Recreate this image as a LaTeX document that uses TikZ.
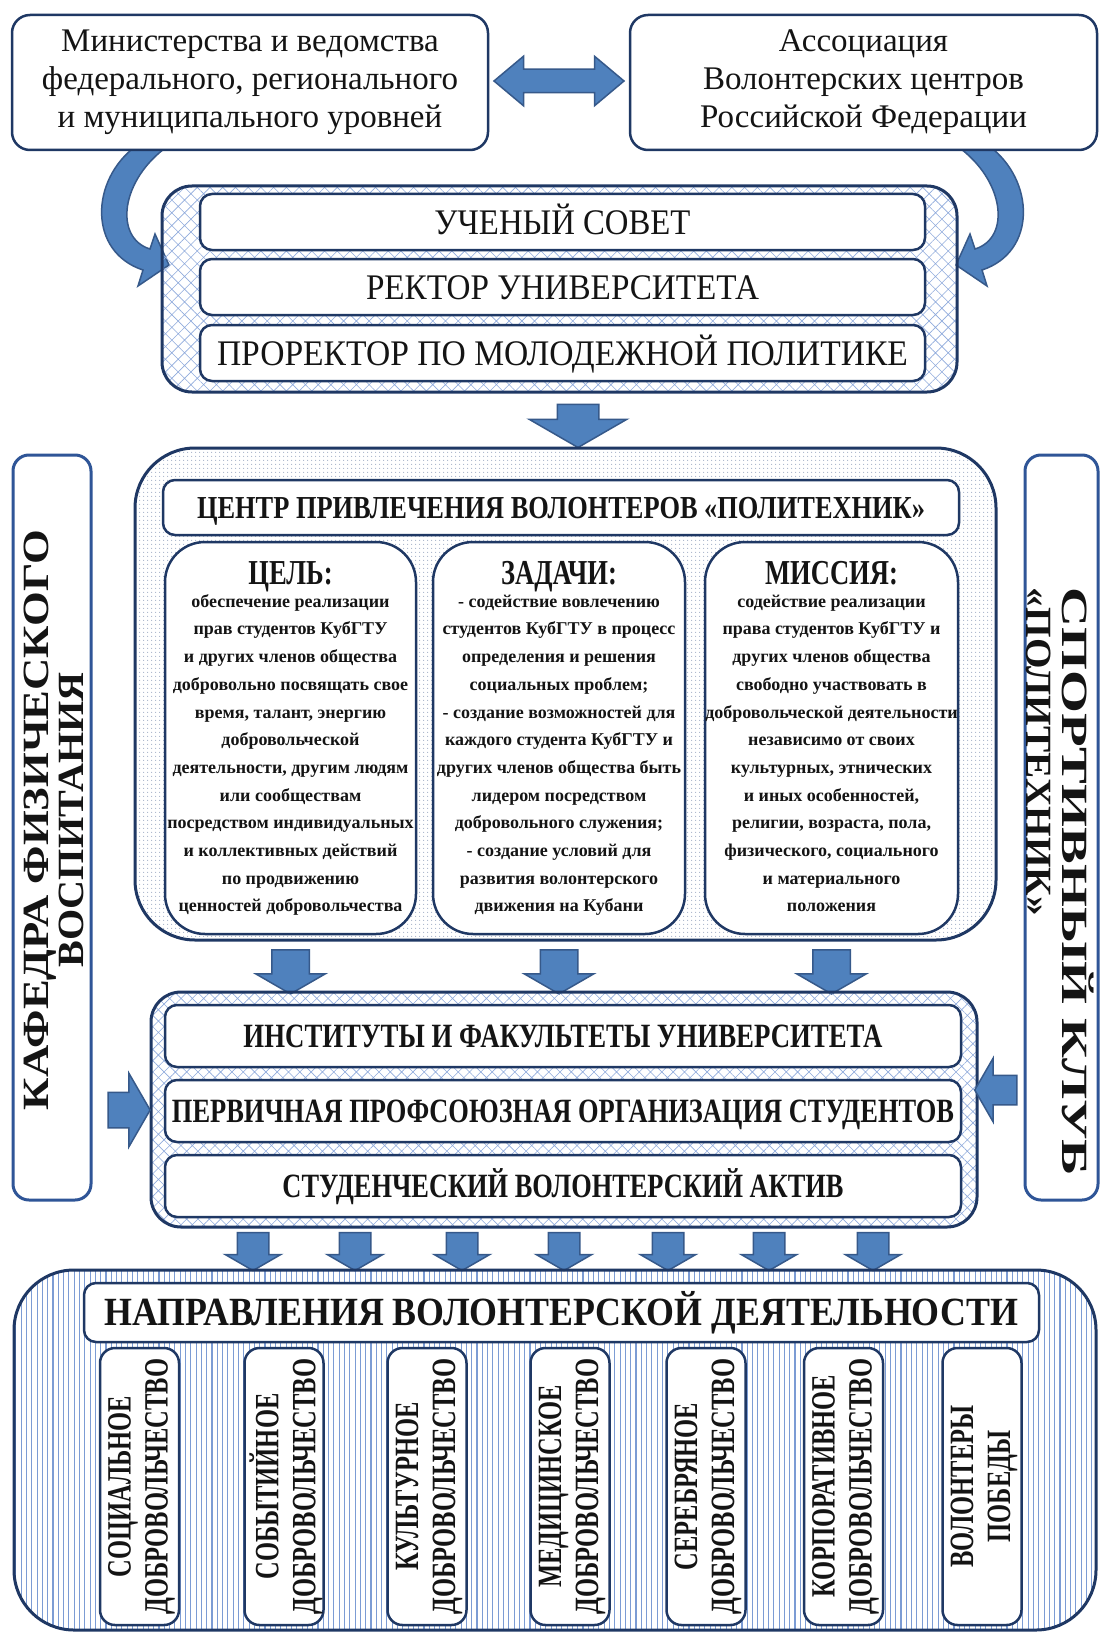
\documentclass[tikz,border=0pt]{standalone}
\usepackage{fontspec}
\setmainfont{Liberation Serif}
\newfontfamily\headserif[FakeStretch=0.76]{Liberation Serif}
\newfontfamily\vserif[FakeStretch=0.72]{Liberation Serif}
\usepackage{graphicx}
\usetikzlibrary{shapes.arrows,patterns.meta}
\definecolor{navy}{HTML}{1F3864}
\definecolor{arrowfill}{HTML}{4F81BD}
\definecolor{arrowline}{HTML}{36598A}
\definecolor{hatchblue}{HTML}{8FAADC}
\definecolor{dotgray}{HTML}{A7B3C9}
\definecolor{linesblue}{HTML}{7C9CD4}
\definecolor{txt}{HTML}{141414}
\definecolor{panelblue}{HTML}{2F5597}
\newcommand{\fitw}[2]{\resizebox{#1}{\height}{#2}}
\begin{document}
\begin{tikzpicture}[x=1pt,y=-1pt,
  every node/.style={text=txt},
  topbox/.style={draw=navy, line width=2.5pt, rounded corners=18pt, fill=white, inner sep=0pt, align=center, font=\fontsize{33}{38}\selectfont},
  hatchframe/.style={draw=navy, line width=3pt, rounded corners=30pt, inner sep=0pt, pattern={Hatch[angle=45,distance=9pt,line width=0.6pt]}, pattern color=hatchblue},
  hatchframeb/.style={draw=navy, line width=3pt, rounded corners=30pt, inner sep=0pt, pattern={Hatch[angle=45,distance=8pt,line width=0.6pt]}, pattern color=hatchblue},
  dotframe/.style={draw=navy, line width=3pt, rounded corners=60pt, inner sep=0pt, pattern={Dots[distance=4pt,radius=0.75pt]}, pattern color=dotgray},
  lineframe/.style={draw=navy, line width=3pt, rounded corners=60pt, inner sep=0pt, pattern={Lines[angle=90,distance=5.3pt,line width=1.1pt]}, pattern color=linesblue},
  innerbox/.style={draw=navy, line width=2.5pt, fill=white, rounded corners=12pt, inner sep=0pt, text depth=0pt},
  colbox/.style={draw=navy, line width=2.5pt, fill=white, rounded corners=40pt, inner sep=0pt, minimum height=392pt},
  colhead/.style={anchor=base, inner sep=0pt, font=\headserif\bfseries\fontsize{35}{38}\selectfont},
  colbody/.style={anchor=north, inner sep=0pt, align=center, font=\bfseries\fontsize{18}{27.7}\selectfont},
  sidepanel/.style={draw=panelblue, line width=3pt, fill=white, rounded corners=16pt, inner sep=0pt, minimum height=745pt},
  vbox/.style={draw=navy, line width=2.5pt, fill=white, rounded corners=15pt, inner sep=0pt, minimum width=79pt, minimum height=277pt},
  vtext/.style={rotate=90, inner sep=0pt, align=center, font=\vserif\bfseries\fontsize{34}{37}\selectfont},
  blockarrow/.style={single arrow, draw=arrowline, line width=1.5pt, fill=arrowfill, inner sep=0pt, single arrow tip angle=120},
  carrow/.style={draw=arrowline, line width=1.5pt, fill=arrowfill}
]
\fill[white] (0,0) rectangle (1100,1632);
\useasboundingbox (0,0) rectangle (1100,1632);

% curved arrows from the top boxes to the council frame
\path[carrow] (136,146) .. controls (90,180) and (88,252) .. (143,270) -- (138,286) -- (169,265) -- (155,234) -- (150,249) .. controls (114,238) and (120,180) .. (168,146) -- cycle;
\begin{scope}[xshift=1125pt,xscale=-1]
\path[carrow] (136,146) .. controls (90,180) and (88,252) .. (143,270) -- (138,286) -- (169,265) -- (155,234) -- (150,249) .. controls (114,238) and (120,180) .. (168,146) -- cycle;
\end{scope}

% top boxes
\node[topbox, minimum width=476pt, minimum height=135pt] (mvd) at (250,82.5) {Министерства и ведомства\\федерального, регионального\\и муниципального уровней};
\node[topbox, minimum width=467pt, minimum height=135pt] (avc) at (863.5,82.5) {Ассоциация\\Волонтерских центров\\Российской Федерации};
\node[double arrow, draw=arrowline, line width=1.5pt, fill=arrowfill, inner sep=0pt, inner ysep=11pt, minimum height=130pt, minimum width=48pt, double arrow head extend=13pt, double arrow tip angle=80] (da) at (559,81) {};

% frame 1
\node[hatchframe, minimum width=795pt, minimum height=206pt] (f1) at (559.5,289) {};
\node[innerbox, minimum width=725pt, minimum height=56pt, text height=24pt, font=\fontsize{36}{40}\selectfont] (us) at (562.5,222) {\fitw{256pt}{УЧЕНЫЙ СОВЕТ}};
\node[innerbox, minimum width=725pt, minimum height=56pt, text height=24pt, font=\fontsize{36}{40}\selectfont] (ru) at (562.5,287) {\fitw{393pt}{РЕКТОР УНИВЕРСИТЕТА}};
\node[innerbox, minimum width=725pt, minimum height=56pt, text height=24pt, font=\fontsize{36}{40}\selectfont] (pm) at (562.5,353) {\fitw{691pt}{ПРОРЕКТОР ПО МОЛОДЕЖНОЙ ПОЛИТИКЕ}};

\node[blockarrow, rotate=-90, inner ysep=20pt, minimum height=43pt, minimum width=96pt, single arrow head extend=28pt] (a1) at (578,420) {};

% side panels
\node[sidepanel, minimum width=78pt] (lp) at (52,827.5) {};
\node[rotate=90, inner sep=0pt, align=center, font=\bfseries\fontsize{37}{35}\selectfont] (lpt) at (53.5,820) {\fitw{580pt}{КАФЕДРА ФИЗИЧЕСКОГО}\\\fitw{295pt}{ВОСПИТАНИЯ}};
\node[sidepanel, minimum width=73pt] (rp) at (1061.5,827.5) {};
\node[rotate=-90, inner sep=0pt, align=left, font=\bfseries\fontsize{37}{36}\selectfont] (rpt) at (1060,882) {\fitw{588pt}{СПОРТИВНЫЙ КЛУБ}\\\fitw{328pt}{«ПОЛИТЕХНИК»}};

% frame 2
\node[dotframe, minimum width=861pt, minimum height=492pt] (f2) at (565.5,694) {};
\node[innerbox, minimum width=796pt, minimum height=55pt, text height=21pt, font=\bfseries\fontsize{32}{36}\selectfont] (cpv) at (561,507.5) {\fitw{728pt}{ЦЕНТР ПРИВЛЕЧЕНИЯ ВОЛОНТЕРОВ «ПОЛИТЕХНИК»}};

\node[colbox, minimum width=251pt] (goal) at (290.5,738) {};
\node[colbox, minimum width=252pt] (tasks) at (559,738) {};
\node[colbox, minimum width=253pt] (mission) at (831.5,738) {};

\node[colhead] (goalh) at (290.5,584) {ЦЕЛЬ:};
\node[colhead] (tasksh) at (559,584) {ЗАДАЧИ:};
\node[colhead] (missionh) at (831.5,584) {МИССИЯ:};

\node[colbody] (goalb) at (290.5,594) {\rule{0pt}{13pt}обеспечение реализации\\прав студентов КубГТУ\\и других членов общества\\добровольно посвящать свое\\время, талант, энергию\\добровольческой\\деятельности, другим людям\\или сообществам\\посредством индивидуальных\\и коллективных действий\\по продвижению\\ценностей добровольчества};
\node[colbody] (tasksb) at (559,594) {\rule{0pt}{13pt}- содействие вовлечению\\студентов КубГТУ в процесс\\определения и решения\\социальных проблем;\\- создание возможностей для\\каждого студента КубГТУ и\\других членов общества быть\\лидером посредством\\добровольного служения;\\- создание условий для\\развития волонтерского\\движения на Кубани};
\node[colbody] (missionb) at (831.5,594) {\rule{0pt}{13pt}содействие реализации\\права студентов КубГТУ и\\других членов общества\\свободно участвовать в\\добровольческой деятельности\\независимо от своих\\культурных, этнических\\и иных особенностей,\\религии, возраста, пола,\\физического, социального\\и материального\\положения};

\node[blockarrow, rotate=-90, inner ysep=18pt, minimum height=44pt, minimum width=68pt, single arrow head extend=16pt] (a2) at (290.5,966.5) {};
\node[blockarrow, rotate=-90, inner ysep=18pt, minimum height=44pt, minimum width=68pt, single arrow head extend=16pt] (a3) at (559,966.5) {};
\node[blockarrow, rotate=-90, inner ysep=18pt, minimum height=44pt, minimum width=68pt, single arrow head extend=16pt] (a4) at (831.5,966.5) {};

% frame 3
\node[hatchframeb, minimum width=826pt, minimum height=235pt] (f3) at (564,1109.5) {};
\node[innerbox, minimum width=796pt, minimum height=62pt, text height=22.5pt, font=\bfseries\fontsize{34}{38}\selectfont] (inst) at (563,1036) {\fitw{639pt}{ИНСТИТУТЫ И ФАКУЛЬТЕТЫ УНИВЕРСИТЕТА}};
\node[innerbox, minimum width=796pt, minimum height=62pt, text height=22.5pt, font=\bfseries\fontsize{34}{38}\selectfont] (ppos) at (563,1111) {\fitw{782pt}{ПЕРВИЧНАЯ ПРОФСОЮЗНАЯ ОРГАНИЗАЦИЯ СТУДЕНТОВ}};
\node[innerbox, minimum width=796pt, minimum height=62pt, text height=22.5pt, font=\bfseries\fontsize{34}{38}\selectfont] (sva) at (563,1186) {\fitw{561pt}{СТУДЕНЧЕСКИЙ ВОЛОНТЕРСКИЙ АКТИВ}};

\node[blockarrow, inner ysep=17pt, minimum height=42pt, minimum width=72pt, single arrow head extend=19pt] (al) at (124,1110) {};
\node[blockarrow, rotate=180, inner ysep=14pt, minimum height=42pt, minimum width=62pt, single arrow head extend=17pt] (ar) at (1000,1090) {};

% seven arrows
\foreach \xx [count=\i] in {253,355,462,564,668,769,873}
  \node[blockarrow, rotate=-90, inner ysep=15pt, minimum height=38pt, minimum width=54pt, single arrow head extend=12pt] (d\i) at (\xx,1247) {};

% bottom frame
\node[lineframe, minimum width=1082pt, minimum height=360pt] (f4) at (555,1450) {};
\node[innerbox, minimum width=955pt, minimum height=59pt, text height=26.5pt, font=\bfseries\fontsize{40}{44}\selectfont] (nvd) at (561.5,1312.5) {\fitw{913pt}{НАПРАВЛЕНИЯ ВОЛОНТЕРСКОЙ ДЕЯТЕЛЬНОСТИ}};

\node[vbox] (v1) at (139.5,1486.5) {};
\node[vbox] (v2) at (284,1486.5) {};
\node[vbox] (v3) at (427,1486.5) {};
\node[vbox] (v4) at (570,1486.5) {};
\node[vbox] (v5) at (706,1486.5) {};
\node[vbox] (v6) at (843.5,1486.5) {};
\node[vbox] (v7) at (982,1486.5) {};

\node[vtext] (v1t) at (141.5,1486.5) {СОЦИАЛЬНОЕ\\ДОБРОВОЛЬЧЕСТВО};
\node[vtext] (v2t) at (286,1486.5) {СОБЫТИЙНОЕ\\ДОБРОВОЛЬЧЕСТВО};
\node[vtext] (v3t) at (429,1486.5) {КУЛЬТУРНОЕ\\ДОБРОВОЛЬЧЕСТВО};
\node[vtext] (v4t) at (572,1486.5) {МЕДИЦИНСКОЕ\\ДОБРОВОЛЬЧЕСТВО};
\node[vtext] (v5t) at (708,1486.5) {СЕРЕБРЯНОЕ\\ДОБРОВОЛЬЧЕСТВО};
\node[vtext] (v6t) at (845.5,1486.5) {КОРПОРАТИВНОЕ\\ДОБРОВОЛЬЧЕСТВО};
\node[vtext] (v7t) at (984,1486.5) {ВОЛОНТЕРЫ\\ПОБЕДЫ};
\end{tikzpicture}
\end{document}
